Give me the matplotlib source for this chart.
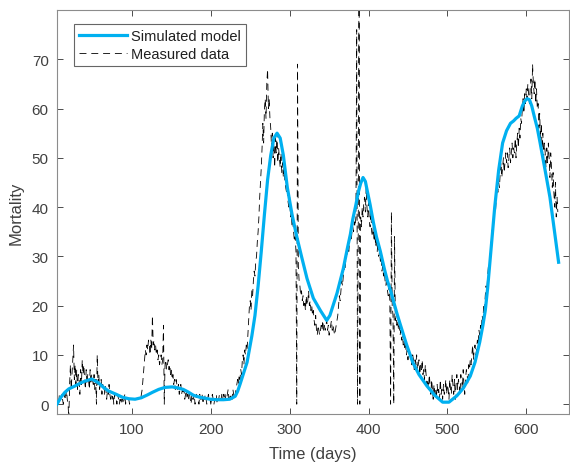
import matplotlib
matplotlib.use('Agg')

import numpy as np
import matplotlib.pyplot as plt

# ================= DATA =================
# simulated model
model_days = [5, 10, 15, 20, 28, 35, 41, 49, 57, 64, 70, 80, 88, 96, 104, 112,
              120, 126, 134, 142, 151, 158, 165, 171, 178, 186, 193, 199, 208,
              216, 224, 231, 234, 237, 241, 246, 252, 256, 260, 264, 268, 272,
              276, 280, 284, 288, 292, 297, 303, 309, 315, 322, 330, 339, 347,
              351, 355, 360, 364, 368, 373, 377, 380, 384, 387, 390, 393, 396,
              398, 402, 406, 410, 415, 420, 424, 428, 432, 436, 440, 448, 456,
              464, 474, 484, 494, 502, 512, 520, 529, 535, 541, 545, 548, 551,
              554, 557, 560, 565, 570, 575, 580, 584, 587, 591, 595, 598, 601,
              604, 607, 610, 614, 617, 621, 625, 630, 635, 641]
model_vals = [0.0, 1.4, 2.4, 3.1, 3.7, 4.3, 4.7, 5.1, 4.4, 3.4, 2.7, 2.0, 1.4,
              1.1, 1.0, 1.3, 1.9, 2.4, 3.0, 3.4, 3.5, 3.3, 3.0, 2.5, 1.8, 1.4,
              1.2, 1.0, 0.9, 0.9, 1.0, 1.6, 2.6, 4.0, 6.0, 8.5, 13.8, 18.0, 24.0,
              31.0, 38.5, 45.5, 50.5, 54.0, 55.0, 54.0, 50.5, 44.0, 38.5, 34.0,
              30.0, 25.5, 21.5, 19.0, 17.0, 18.0, 20.0, 22.5, 25.0, 27.5, 31.5,
              34.5, 37.5, 40.5, 43.0, 44.8, 46.0, 45.2, 43.6, 40.5, 37.0, 34.0,
              31.0, 27.5, 25.0, 23.0, 20.7, 18.4, 16.3, 12.2, 8.5, 6.0, 3.7,
              1.8, 0.4, 0.4, 1.7, 3.2, 5.7, 8.5, 12.6, 16.0, 19.0, 23.5, 29.0,
              34.5, 40.0, 47.5, 53.0, 55.5, 57.0, 57.5, 58.0, 58.5, 60.5, 61.5,
              62.0, 61.8, 60.5, 58.5, 56.0, 53.5, 50.0, 46.5, 42.0, 36.0, 28.8]

# measured data, one value per day starting at day 5
meas_start = 5
meas_vals = [
    0, 1, 0, 2, 1, 1, 2, 1, 0, 1,            # 5
    2, 1, 3, 1, 0, -3, 4, 8, 3, 6,           # 15
    9, 12, 5, 8, 4, 7, 3, 6, 5, 2,           # 25
    7, 4, 9, 6, 8, 5, 3, 7, 4, 6,            # 35
    5, 3, 7, 4, 6, 5, 4, 6, 3, 5,            # 45
    0, 10, 4, 6, 3, 4, 5, 2, 4, 3,           # 55
    2, 4, 3, 1, 3, 2, 4, 2, 1, 2,            # 65
    1, 2, 0, 2, 1, 1, 0, 2, 1, 0,            # 75
    1, 0, 1, 1, 0, 1, 2, 0, 1, 1,            # 85
    1, 1, 0, 1, 1, 1, 1, 1, 1, 1,            # 95
    1, 1, 1, 1, 1, 1, 1, 2, 3, 5,            # 105
    7, 9, 11, 10, 12, 11, 13, 12, 10, 13,    # 115
    11, 18, 12, 13, 11, 12, 10, 11, 9, 10,   # 125
    8, 9, 10, 8, 9, 16, 0, 8, 9, 7,          # 135
    8, 9, 7, 8, 6, 7, 5, 6, 4, 5,            # 145
    3, 5, 4, 3, 4, 2, 3, 4, 2, 3,            # 155
    2, 3, 1, 2, 3, 1, 2, 1, 2, 1,            # 165
    0, 2, 1, 1, 2, 0, 1, 2, 1, 1,            # 175
    0, 2, 1, 1, 2, 0, 1, 1, 2, 1,            # 185
    0, 1, 2, 1, 1, 0, 1, 2, 1, 0,            # 195
    1, 1, 2, 0, 1, 1, 2, 1, 1, 2,            # 205
    1, 2, 1, 2, 1, 1, 2, 3, 1, 2,            # 215
    1, 2, 1, 3, 2, 1, 2, 3, 4, 5,            # 225
    4, 6, 5, 7, 6, 9, 10, 8, 11, 10,         # 235
    12, 11, 14, 17, 20, 21, 19, 23, 22, 25,  # 245
    27, 26, 29, 30, 33, 35, 38, 42, 45, 48,  # 255
    52, 57, 53, 60, 62, 58, 65, 68, 60, 62,  # 265
    58, 56, 52, 55, 50, 53, 48, 54, 51, 55,  # 275
    49, 52, 50, 48, 51, 47, 49, 46, 48, 45,  # 285
    44, 43, 45, 41, 40, 42, 38, 39, 36, 37,  # 295
    35, 33, 34, 31, 0, 69, 28, 25, 24, 22,   # 305
    23, 21, 22, 20, 21, 19, 22, 20, 21, 23,  # 315
    20, 21, 19, 20, 18, 19, 17, 16, 18, 15,  # 325
    14, 16, 15, 14, 15, 16, 15, 17, 15, 16,  # 335
    15, 16, 17, 15, 16, 14, 15, 16, 17, 15,  # 345
    16, 15, 14, 15, 16, 17, 18, 20, 22, 21,  # 355
    23, 25, 24, 26, 28, 27, 29, 31, 30, 32,  # 365
    31, 33, 34, 33, 35, 36, 35, 37, 36, 38,  # 375
    76, 0, 37, 95, 0, 38, 36, 40, 38, 41,    # 385
    42, 39, 44, 40, 38, 41, 37, 36, 39, 35,  # 395
    34, 36, 33, 35, 32, 34, 31, 33, 30, 31,  # 405
    29, 30, 27, 28, 26, 27, 25, 24, 26, 23,  # 415
    22, 24, 21, 0, 39, 20, 18, 0, 34, 17,    # 425
    18, 16, 17, 15, 16, 14, 15, 13, 14, 12,  # 435
    13, 11, 12, 10, 11, 9, 11, 10, 9, 10,    # 445
    8, 10, 9, 7, 9, 8, 10, 7, 8, 9,          # 455
    6, 8, 7, 9, 6, 7, 5, 8, 6, 4,            # 465
    5, 3, 6, 4, 2, 5, 3, 1, 4, 2,            # 475
    3, 1, 4, 2, 3, 1, 5, 2, 3, 1,            # 485
    4, 2, 3, 5, 2, 4, 3, 1, 5, 3,            # 495
    2, 6, 4, 2, 5, 1, 4, 6, 3, 5,            # 505
    4, 2, 6, 5, 3, 7, 4, 2, 5, 7,            # 515
    6, 4, 8, 7, 9, 8, 10, 12, 9, 11,         # 525
    12, 10, 11, 13, 12, 15, 14, 16, 15, 18,  # 535
    17, 20, 19, 22, 24, 23, 26, 28, 27, 30,  # 545
    32, 34, 36, 35, 38, 40, 39, 42, 44, 43,  # 555
    45, 44, 47, 49, 46, 48, 50, 47, 49, 51,  # 565
    49, 51, 48, 50, 52, 49, 51, 53, 50, 52,  # 575
    51, 54, 50, 53, 55, 52, 56, 54, 58, 57,  # 585
    60, 62, 59, 63, 61, 64, 62, 65, 63, 61,  # 595
    64, 66, 62, 69, 65, 63, 66, 61, 64, 60,  # 605
    61, 56, 59, 54, 57, 52, 55, 50, 53, 51,  # 615
    48, 52, 49, 53, 50, 46, 51, 48, 44, 47,  # 625
    43, 40, 45, 38, 42, 39,                  # 635
]

x_ticks = [100, 200, 300, 400, 500, 600]
y_ticks = [0, 10, 20, 30, 40, 50, 60, 70]

# ================= PLOT =================
plt.rcParams['font.family'] = ['Liberation Sans', 'DejaVu Sans']
plt.rcParams['lines.scale_dashes'] = False

fig = plt.figure(figsize=(5.7, 4.64), dpi=100)
ax = fig.add_axes([0.1, 0.1056, 0.898, 0.8707])

meas_days = np.arange(meas_start, meas_start + len(meas_vals))
ax.plot(model_days, model_vals, color='#00B0F0', lw=2.3, label='Simulated model', zorder=3)
ax.plot(meas_days, meas_vals, color='k', lw=0.6, dashes=(5, 3.5), label='Measured data', zorder=2)

ax.set_xlim(5, 654)
ax.set_ylim(-2, 80)
ax.set_xticks(x_ticks)
ax.set_yticks(y_ticks)

edge = '#8c8c8c'
text_c = '#404040'
for s in ax.spines.values():
    s.set_color(edge)
    s.set_linewidth(0.8)
ax.tick_params(direction='in', length=4, width=0.6, color='#303030',
               labelsize=11, labelcolor=text_c, top=True, right=True, pad=6)

ax.set_xlabel('Time (days)', fontsize=12, color=text_c, labelpad=7)
ax.set_ylabel('Mortality', fontsize=12, color=text_c, labelpad=6)

leg = ax.legend(loc='upper left', bbox_to_anchor=(0.033, 0.965), borderaxespad=0,
                fontsize=10.5, frameon=True, fancybox=False, handlelength=3.3,
                handletextpad=0.3, borderpad=0.35, labelspacing=0.25)
leg.get_frame().set_edgecolor('#404040')
leg.get_frame().set_linewidth(0.8)
for t in leg.get_texts():
    t.set_color('#202020')

fig.savefig('out.png', dpi=100)
